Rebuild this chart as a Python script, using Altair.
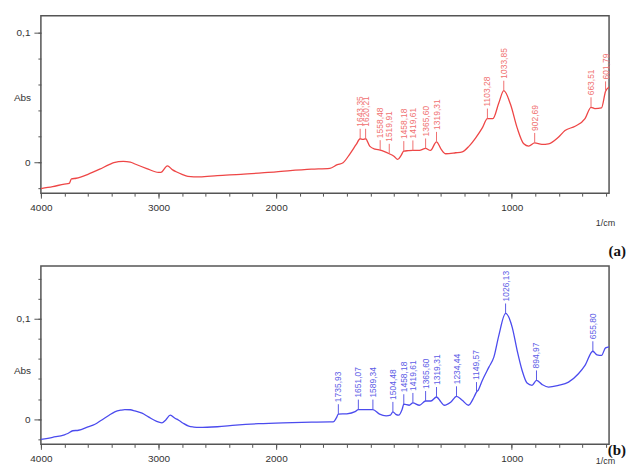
import altair as alt
import pandas as pd

# ---- spectrum (a) : wavenumber (1/cm) and absorbance ----
a_wn = [4000, 3900, 3800, 3760, 3740, 3700, 3600, 3500, 3420, 3380, 3300, 3240, 3200,
        3100, 3000, 2980, 2925, 2880, 2850, 2800, 2750, 2650, 2500, 2300, 2000, 1850,
        1772, 1740, 1716, 1688, 1660, 1643.35, 1632, 1620.21, 1603, 1580, 1558.48, 1540,
        1519.91, 1500, 1484, 1470, 1458.18, 1440, 1419.61, 1392, 1365.60, 1345, 1319.31,
        1300, 1280, 1238, 1210, 1181, 1153, 1125, 1103.28, 1080, 1055, 1033.85, 1005,
        977, 949, 928, 902.69, 872, 844, 802, 774, 731, 689, 663.51, 647, 619, 601.79, 587]
a_abs = [-0.0205, -0.019, -0.017, -0.0165, -0.013, -0.0125, -0.0095, -0.0055, -0.002,
         -0.0005, 0.0005, 0.0, -0.0015, -0.005, -0.008, -0.008, -0.003, -0.006, -0.0075,
         -0.0095, -0.011, -0.0115, -0.0105, -0.0095, -0.0075, -0.0055, -0.0048, -0.002,
         -0.0005, 0.006, 0.0136, 0.018, 0.0175, 0.018, 0.0123, 0.010, 0.0092, 0.008,
         0.0064, 0.0045, 0.002, 0.005, 0.0085, 0.0088, 0.009, 0.009, 0.0105, 0.009,
         0.0156, 0.010, 0.0064, 0.0072, 0.0079, 0.0123, 0.0187, 0.0264, 0.0336, 0.0336,
         0.0456, 0.0551, 0.0444, 0.0264, 0.0141, 0.0123, 0.0148, 0.0136, 0.0141, 0.0192,
         0.0243, 0.0277, 0.0336, 0.0423, 0.0413, 0.0418, 0.0546, 0.058]
a_peaks = [1643.35, 1620.21, 1558.48, 1519.91, 1458.18, 1419.61, 1365.60, 1319.31,
           1103.28, 1033.85, 902.69, 663.51, 601.79]
a_peak_labels = ["1643,35", "1620,21", "1558,48", "1519,91", "1458,18", "1419,61",
                 "1365,60", "1319,31", "1103,28", "1033,85", "902,69", "663,51", "601,79"]

# ---- spectrum (b) ----
b_wn = [4000, 3900, 3800, 3771, 3729, 3680, 3600, 3540, 3486, 3420, 3372, 3320, 3286,
        3240, 3200, 3140, 3086, 3020, 2971, 2940, 2900, 2860, 2829, 2790, 2743, 2700,
        2657, 2500, 2343, 2150, 1971, 1850, 1772, 1758, 1745, 1735.93, 1700, 1665,
        1651.07, 1617, 1589.34, 1561, 1533, 1515, 1504.48, 1492, 1480, 1465, 1458.18,
        1435, 1419.61, 1392, 1365.60, 1343, 1319.31, 1300, 1287, 1258, 1234.44, 1210,
        1184, 1160, 1149.57, 1142, 1125, 1097, 1076, 1055, 1026.13, 998, 977, 956, 935,
        914, 894.97, 872, 844, 802, 759, 717, 689, 655.80, 638, 619, 602, 587]
b_abs = [-0.0201, -0.018, -0.0155, -0.0142, -0.0115, -0.011, -0.0076, -0.005, -0.001,
         0.004, 0.0073, 0.009, 0.0096, 0.0094, 0.0082, 0.006, 0.0023, -0.002, -0.0036,
         -0.001, 0.004, 0.001, -0.001, -0.004, -0.0069, -0.0078, -0.0082, -0.0075,
         -0.0059, -0.0045, -0.0036, -0.003, -0.0027, -0.0027, 0.001, 0.005, 0.0054,
         0.0075, 0.0096, 0.0096, 0.0096, 0.005, 0.0033, 0.004, 0.0073, 0.0048, 0.004,
         0.010, 0.0149, 0.0139, 0.0162, 0.0139, 0.0181, 0.0181, 0.0221, 0.017, 0.0139,
         0.0171, 0.0228, 0.0188, 0.0139, 0.0221, 0.027, 0.029, 0.0386, 0.0518, 0.0617,
         0.0832, 0.1052, 0.0914, 0.0683, 0.0485, 0.036, 0.0337, 0.0386, 0.0347, 0.032,
         0.0337, 0.0369, 0.0452, 0.0535, 0.0676, 0.064, 0.0634, 0.071, 0.072]
b_peaks = [1735.93, 1651.07, 1589.34, 1504.48, 1458.18, 1419.61, 1365.60, 1319.31,
           1234.44, 1149.57, 1026.13, 894.97, 655.80]
b_peak_labels = ["1735,93", "1651,07", "1589,34", "1504,48", "1458,18", "1419,61",
                 "1365,60", "1319,31", "1234,44", "1149,57", "1026,13", "894,97", "655,80"]

x_ticks = [4000, 3800, 3600, 3400, 3200, 3000, 2800, 2600, 2400, 2200, 2000,
           1900, 1800, 1700, 1600, 1500, 1400, 1300, 1200, 1100, 1000, 900, 800, 700, 600]
x_labels = [4000, 3000, 2000, 1000]
y_ticks_a = [-0.02, 0, 0.02, 0.04, 0.06, 0.08, 0.1]
y_ticks_b = [-0.02, 0, 0.02, 0.04, 0.06, 0.08, 0.1, 0.12, 0.14]
y_labels = [0, 0.1]

W = 570
FONT = "Liberation Sans"
AX = "#333333"
TICK = "#555555"


def panel(wn, ab, peaks, labels, ydom, yticks, height, line_col, lab_col, tag, abs_y, unit_y):
    df = pd.DataFrame({"wn": wn, "abs": ab})
    lookup = dict(zip(wn, ab))
    pk = pd.DataFrame({"wn": peaks, "abs": [lookup[p] for p in peaks], "lab": labels})
    xs = alt.Scale(domain=[4000, 2000, 587], range=[0, 236, W], nice=False, zero=False)
    ys = alt.Scale(domain=ydom, nice=False, zero=False)
    # major axes (labelled)
    xaxis = alt.Axis(
        orient="bottom", values=x_labels, grid=False, domain=False, tickSize=5,
        tickColor=TICK, tickWidth=1, labelOverlap=False, format="d",
        labelFont=FONT, labelFontSize=10, labelColor=AX, labelPadding=4,
        labelFlush=False,
        title="1/cm", titleFont=FONT, titleFontSize=9, titleFontWeight="normal",
        titleColor=AX, titleX=566, titleY=unit_y, titleAlign="center",
        titleBaseline="bottom",
    )
    yaxis = alt.Axis(
        orient="left", values=y_labels, grid=False, domain=False, tickSize=7,
        tickColor=TICK, tickWidth=1, labelOverlap=False,
        labelExpr="datum.value == 0 ? '0' : '0,1'",
        labelFont=FONT, labelFontSize=10, labelColor=AX, labelPadding=4,
        title="Abs", titleAngle=0, titleX=-19, titleY=abs_y, titleAlign="center",
        titleBaseline="middle", titleFont=FONT, titleFontSize=10,
        titleFontWeight="normal", titleColor=AX,
    )
    # minor axes (ticks only)
    xminor = alt.Axis(orient="bottom", values=x_ticks, grid=False, domain=False,
                      labels=False, tickSize=3, tickColor=TICK, tickWidth=1, title=None)
    yminor = alt.Axis(orient="left", values=yticks, grid=False, domain=False,
                      labels=False, tickSize=3, tickColor=TICK, tickWidth=1, title=None)

    line = alt.Chart(df).mark_line(color=line_col, strokeWidth=1.3, clip=True,
                                   interpolate="monotone").encode(
        x=alt.X("wn:Q", scale=xs, axis=xaxis),
        y=alt.Y("abs:Q", scale=ys, axis=yaxis),
        order="idx:Q",
    ).transform_window(idx="row_number()")
    ticks = alt.Chart(pk).mark_rule(color=lab_col, strokeWidth=1, y2Offset=-10).encode(
        x=alt.X("wn:Q", scale=xs, axis=xminor),
        y=alt.Y("abs:Q", scale=ys, axis=yminor),
        y2="abs:Q",
    )
    texts = alt.Chart(pk).mark_text(
        angle=270, align="left", baseline="middle", dx=12, font=FONT,
        fontSize=8.5, color=lab_col,
    ).encode(
        x=alt.X("wn:Q", scale=xs, axis=None),
        y=alt.Y("abs:Q", scale=ys, axis=None),
        text="lab:N",
    )
    tagc = alt.Chart(pd.DataFrame({"t": [tag[0]]})).mark_text(
        font="Liberation Serif", fontSize=15, fontWeight="bold", color="#111111",
        align="right", baseline="middle",
    ).encode(text="t:N", x=alt.value(587), y=alt.value(tag[1]))
    return alt.layer(line, ticks, texts, tagc).resolve_axis(
        x="independent", y="independent"
    ).properties(width=W, height=height)


top = panel(a_wn, a_abs, a_peaks, a_peak_labels, [-0.024, 0.113], y_ticks_a, 178,
            "#ee4646", "#f07070", ("(a)", 236), 82, 34)
bottom = panel(b_wn, b_abs, b_peaks, b_peak_labels, [-0.025, 0.1525], y_ticks_b, 179,
               "#4b4bee", "#5c5ce6", ("(b)", 185), 105, 21)

chart = alt.vconcat(top, bottom, spacing=73, bounds="flush").properties(
    padding={"left": 4, "top": 6, "right": 0, "bottom": 0},
    background="white",
).configure_view(stroke="#555555", strokeWidth=1.5)

chart.save("out.html", embed_options={"renderer": "svg", "actions": False})
